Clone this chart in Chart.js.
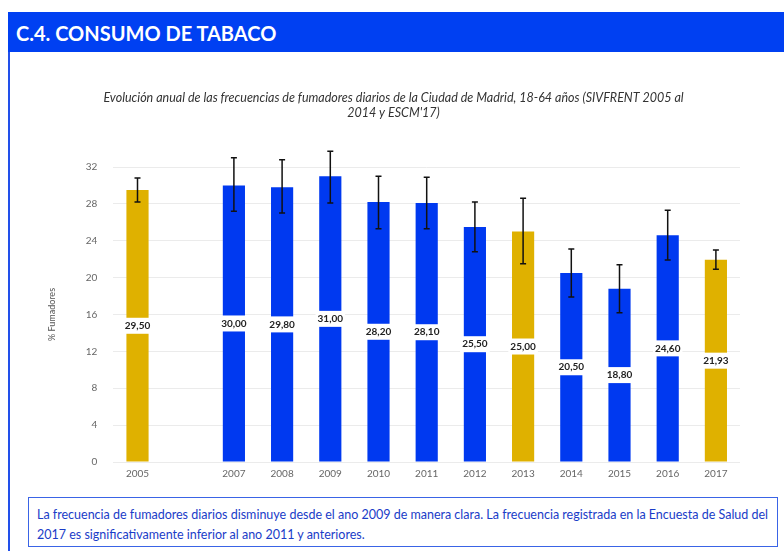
<!DOCTYPE html>
<html>
<head>
<meta charset="utf-8">
<script src="https://cdn.jsdelivr.net/npm/chart.js@4.4.1/dist/chart.umd.min.js"></script>
<style>
  body { margin: 0; width: 784px; height: 551px; background: #fff; font-family: Lato, sans-serif; position: relative; overflow: hidden; }
  .frame { position: absolute; left: 8px; top: 12px; width: 790px; height: 560px; border-left: 2px solid #2250ea; border-top: 2px solid #2250ea; }
  .header { position: absolute; left: 8px; top: 12px; width: 776px; height: 40px; background: #0040f2; color: #fff; font-weight: bold; font-size: 20px; line-height: 42px; padding-left: 8px; box-sizing: border-box; }
  .chart { position: absolute; left: 20px; top: 82px; width: 740px; height: 404px; }
  .note { position: absolute; left: 28px; top: 497px; width: 750px; height: 50px; border: 1px solid #3a64e6; box-sizing: border-box; color: #1a3cc8; font-size: 12.5px; line-height: 20px; padding: 7px 8px; white-space: nowrap; }
</style>
</head>
<body>
<div class="frame"></div>
<div class="header">C.4. CONSUMO DE TABACO</div>
<div class="chart"><canvas id="barChart"></canvas></div>
<div class="note">La frecuencia de fumadores diarios disminuye desde el ano 2009 de manera clara. La frecuencia registrada en la Encuesta de Salud del<br>2017 es significativamente inferior al ano 2011 y anteriores.</div>
<script>
// datos
const years = ['2005', '2006', '2007', '2008', '2009', '2010', '2011', '2012', '2013', '2014', '2015', '2016', '2017'];
const fumadores = [29.5, null, 30.0, 29.8, 31.0, 28.2, 28.1, 25.5, 25.0, 20.5, 18.8, 24.6, 21.93];
const icInf = [28.2, null, 27.2, 27.0, 28.1, 25.3, 25.3, 22.8, 21.5, 17.9, 16.2, 21.9, 20.9];
const icSup = [30.8, null, 33.0, 32.8, 33.7, 31.0, 30.9, 28.2, 28.6, 23.1, 21.4, 27.3, 23.0];
const fuente = ['ES', null, 'SIVFRENT', 'SIVFRENT', 'SIVFRENT', 'SIVFRENT', 'SIVFRENT', 'SIVFRENT', 'ES', 'SIVFRENT', 'SIVFRENT', 'SIVFRENT', 'ES'];
const yTicks = [0, 4, 8, 12, 16, 20, 24, 28, 32];

const colores = { 'SIVFRENT': '#0039f0', 'ES': '#dfb100' };

// barras de error + etiqueta en el centro de la barra
const barExtras = {
    id: 'barExtras',
    afterDatasetsDraw(chart) {
        const ctx = chart.ctx;
        const y = chart.scales.y;
        const meta = chart.getDatasetMeta(0);
        ctx.save();
        meta.data.forEach((bar, i) => {
            if (fumadores[i] == null) return;
            const mid = (bar.y + bar.base) / 2;
            const txt = fumadores[i].toFixed(2).replace('.', ',');
            ctx.font = 'bold 10px Lato';
            const w = Math.max(ctx.measureText(txt).width + 4, bar.width + 2);
            ctx.fillStyle = '#fff';
            ctx.fillRect(bar.x - w / 2, mid - 8, w, 16);
            ctx.fillStyle = '#222';
            ctx.textAlign = 'center';
            ctx.textBaseline = 'middle';
            ctx.fillText(txt, bar.x, mid);

            const top = y.getPixelForValue(icSup[i]);
            const bot = y.getPixelForValue(icInf[i]);
            ctx.strokeStyle = '#111';
            ctx.lineWidth = 1.5;
            ctx.beginPath();
            ctx.moveTo(bar.x, top); ctx.lineTo(bar.x, bot);
            ctx.moveTo(bar.x - 3, top); ctx.lineTo(bar.x + 3, top);
            ctx.moveTo(bar.x - 3, bot); ctx.lineTo(bar.x + 3, bot);
            ctx.stroke();
        });
        ctx.restore();
    }
};

const ctx = document.getElementById('barChart').getContext('2d');
const myChart = new Chart(ctx, {
    type: 'bar',
    data: {
        labels: years,
        datasets: [{
            label: '% Fumadores',
            data: fumadores,
            backgroundColor: fuente.map(f => colores[f] || '#fff'),
            barPercentage: 0.92,
            categoryPercentage: 0.5
        }]
    },
    options: {
        responsive: true,
        maintainAspectRatio: false,
        animation: false,
        layout: { padding: { left: 27, right: 20, top: 0, bottom: 0 } },
        plugins: {
            legend: { display: false },
            tooltip: { enabled: false },
            title: {
                display: true,
                text: ['Evolución anual de las frecuencias de fumadores diarios de la Ciudad de Madrid, 18-64 años (SIVFRENT 2005 al', '2014 y ESCM\'17)'],
                color: '#333',
                font: { family: 'Lato', size: 12.5, style: 'italic', weight: 'normal', lineHeight: 1.2 },
                padding: { top: 8, bottom: 47 }
            }
        },
        scales: {
            x: {
                grid: { display: false, drawTicks: false },
                border: { display: false },
                ticks: {
                    color: '#666',
                    padding: 6,
                    font: { family: 'Lato', size: 10 },
                    callback: (v, i) => fumadores[i] == null ? '' : years[i]
                }
            },
            y: {
                min: 0,
                max: 32,
                afterBuildTicks: axis => { axis.ticks = yTicks.map(v => ({ value: v })); },
                grid: { color: '#ebebeb', drawTicks: false },
                border: { display: false },
                ticks: { color: '#666', font: { family: 'Lato', size: 10 }, padding: 16 },
                title: { display: true, text: '% Fumadores', color: '#555', font: { family: 'Lato', size: 9 }, padding: { top: 0, bottom: 12 } }
            }
        }
    },
    plugins: [barExtras]
});
</script>
</body>
</html>
